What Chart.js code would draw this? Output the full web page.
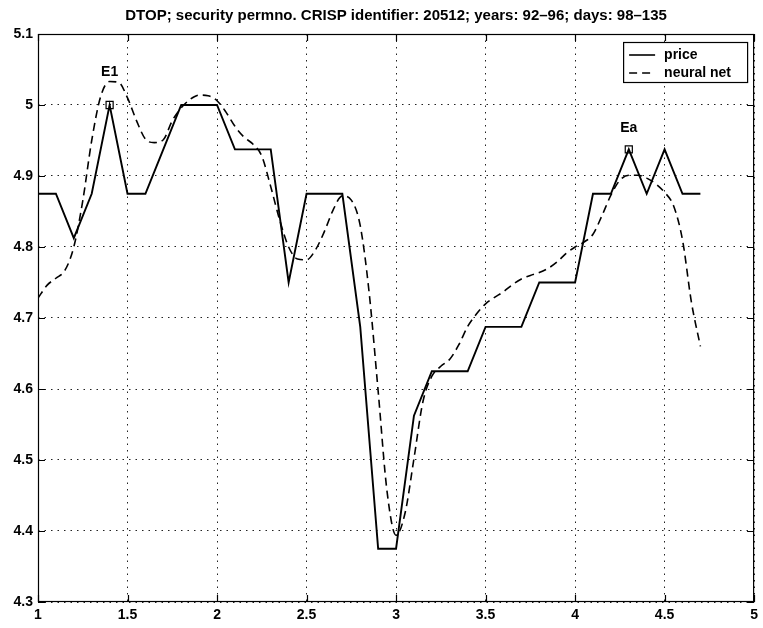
<!DOCTYPE html>
<html>
<head>
<meta charset="utf-8">
<script src="https://cdn.jsdelivr.net/npm/chart.js@4.4.0/dist/chart.umd.min.js"></script>
<style>
  html, body { margin: 0; padding: 0; background: #fff; }
  #wrap { width: 763px; height: 628px; }
</style>
</head>
<body>
<div id="wrap"><canvas id="chart" width="763" height="628"></canvas></div>
<script>
// Trading days 98-135, rescaled onto the 1..5 time axis
const days = [1.0, 1.1, 1.2, 1.3, 1.4, 1.5, 1.6, 1.7, 1.8, 1.9,
              2.0, 2.1, 2.2, 2.3, 2.4, 2.5, 2.6, 2.7, 2.8, 2.9,
              3.0, 3.1, 3.2, 3.3, 3.4, 3.5, 3.6, 3.7, 3.8, 3.9,
              4.0, 4.1, 4.2, 4.3, 4.4, 4.5, 4.6, 4.7];

// Closing price (log scale units)
const price = [4.875, 4.875, 4.8125, 4.875, 5.0, 4.875, 4.875, 4.9375, 5.0, 5.0,
               5.0, 4.9375, 4.9375, 4.9375, 4.75, 4.875, 4.875, 4.875, 4.6875, 4.375,
               4.375, 4.5625, 4.625, 4.625, 4.625, 4.6875, 4.6875, 4.6875, 4.75, 4.75,
               4.75, 4.875, 4.875, 4.9375, 4.875, 4.9375, 4.875, 4.875];

// Neural net output, sampled on a finer time grid
const netX = [1.00, 1.05, 1.10, 1.15, 1.20, 1.25, 1.30, 1.35, 1.40, 1.45,
              1.50, 1.55, 1.60, 1.65, 1.70, 1.75, 1.80, 1.85, 1.90, 1.95,
              2.00, 2.05, 2.10, 2.15, 2.20, 2.25, 2.30, 2.35, 2.40, 2.45,
              2.50, 2.55, 2.60, 2.65, 2.70, 2.75, 2.80, 2.85, 2.90, 2.95,
              3.00, 3.05, 3.10, 3.15, 3.20, 3.25, 3.30, 3.35, 3.40, 3.45,
              3.50, 3.55, 3.60, 3.65, 3.70, 3.75, 3.80, 3.85, 3.90, 3.95,
              4.00, 4.05, 4.10, 4.15, 4.20, 4.25, 4.30, 4.35, 4.40, 4.45,
              4.50, 4.55, 4.60, 4.65, 4.70];
const netY = [4.728, 4.746, 4.756, 4.767, 4.800, 4.865, 4.950, 5.012, 5.033, 5.032,
              5.010, 4.978, 4.952, 4.947, 4.951, 4.978, 4.996, 5.008, 5.014, 5.013,
              5.006, 4.990, 4.970, 4.955, 4.945, 4.928, 4.885, 4.838, 4.800, 4.783,
              4.782, 4.796, 4.822, 4.853, 4.872, 4.866, 4.830, 4.735, 4.597, 4.455,
              4.394, 4.425, 4.502, 4.582, 4.618, 4.632, 4.642, 4.662, 4.688, 4.706,
              4.720, 4.729, 4.737, 4.747, 4.755, 4.760, 4.764, 4.770, 4.779, 4.791,
              4.800, 4.807, 4.818, 4.844, 4.873, 4.894, 4.901, 4.901, 4.897, 4.889,
              4.877, 4.858, 4.810, 4.722, 4.660];

// Marked events on the price path, with the height of their text labels
const eventNames = ['E1', 'Ea'];
const eventDays = [1.4, 4.3];
const eventTextY = [5.046, 4.968];

const xTicks = [1, 1.5, 2, 2.5, 3, 3.5, 4, 4.5, 5];
const yTicks = [4.3, 4.4, 4.5, 4.6, 4.7, 4.8, 4.9, 5.0, 5.1];

const titleText = 'DTOP; security permno. CRISP identifier: 20512; years: 92\u201396; days: 98\u2013135';
const seriesNames = ['price', 'neural net'];

const FONT = '"Liberation Sans", Arial, Helvetica, sans-serif';
const NET_DASH = [8, 5];

const pricePts = days.map((d, i) => ({ x: d, y: price[i] }));
const netPts = netX.map((d, i) => ({ x: d, y: netY[i] }));
const eventPts = eventDays.map(d => ({ x: d, y: price[days.findIndex(v => Math.abs(v - d) < 1e-9)] }));

// MATLAB-style frame: box, inward ticks, legend and event labels
const framePlugin = {
  id: 'frame',
  afterDraw(chart) {
    const { ctx, chartArea: a, scales: { x, y } } = chart;
    const tl = 7;
    ctx.save();
    ctx.strokeStyle = '#000';
    ctx.lineWidth = 1.2;
    ctx.setLineDash([]);
    ctx.strokeRect(a.left + 0.5, a.top + 0.5, a.right - a.left - 1, a.bottom - a.top - 1);
    ctx.beginPath();
    xTicks.forEach(v => {
      const px = Math.round(x.getPixelForValue(v)) + 0.5;
      ctx.moveTo(px, a.bottom); ctx.lineTo(px, a.bottom - tl);
      ctx.moveTo(px, a.top); ctx.lineTo(px, a.top + tl);
    });
    yTicks.forEach(v => {
      const py = Math.round(y.getPixelForValue(v)) + 0.5;
      ctx.moveTo(a.left, py); ctx.lineTo(a.left + tl, py);
      ctx.moveTo(a.right, py); ctx.lineTo(a.right - tl, py);
    });
    ctx.stroke();

    // event labels above the marked prices
    ctx.fillStyle = '#000';
    ctx.font = 'bold 14px ' + FONT;
    ctx.textAlign = 'center';
    ctx.textBaseline = 'middle';
    eventNames.forEach((n, i) => {
      ctx.fillText(n, x.getPixelForValue(eventDays[i]), y.getPixelForValue(eventTextY[i]));
    });

    // legend box in the upper right corner
    const bw = 124, bh = 40;
    const bx = a.right - 7 - bw, by = a.top + 8;
    ctx.fillStyle = '#fff';
    ctx.fillRect(bx, by, bw, bh);
    ctx.lineWidth = 1.2;
    ctx.strokeRect(bx + 0.5, by + 0.5, bw, bh);
    const styles = [[], NET_DASH];
    seriesNames.forEach((n, i) => {
      const ly = by + 13 + i * 18;
      ctx.beginPath();
      ctx.setLineDash(styles[i]);
      ctx.lineWidth = 1.6;
      ctx.moveTo(bx + 6, ly); ctx.lineTo(bx + 32, ly);
      ctx.stroke();
      ctx.setLineDash([]);
      ctx.fillStyle = '#000';
      ctx.textAlign = 'left';
      ctx.fillText(n, bx + 41, ly);
    });
    ctx.restore();
  }
};

new Chart(document.getElementById('chart'), {
  type: 'scatter',
  data: {
    datasets: [
      {
        label: seriesNames[0],
        data: pricePts,
        showLine: true,
        borderColor: '#000',
        borderWidth: 1.9,
        pointRadius: 0,
        tension: 0
      },
      {
        label: seriesNames[1],
        data: netPts,
        showLine: true,
        borderColor: '#000',
        borderWidth: 1.6,
        borderDash: NET_DASH,
        pointRadius: 0,
        cubicInterpolationMode: 'monotone'
      },
      {
        label: 'events',
        data: eventPts,
        showLine: false,
        pointStyle: 'rect',
        pointRadius: 5,
        borderColor: '#000',
        borderWidth: 1.2,
        backgroundColor: 'rgba(0,0,0,0)'
      }
    ]
  },
  options: {
    responsive: false,
    animation: false,
    devicePixelRatio: 1,
    layout: { padding: { left: 0, right: 7, top: 0, bottom: 0 } },
    plugins: {
      legend: { display: false },
      tooltip: { enabled: false },
      title: {
        display: true,
        fullSize: false,
        text: titleText,
        color: '#000',
        font: { family: FONT, size: 15, weight: 'bold' },
        padding: { top: 7, bottom: 9 }
      }
    },
    scales: {
      x: {
        type: 'linear',
        min: 1, max: 5,
        afterBuildTicks: s => { s.ticks = xTicks.map(v => ({ value: v })); },
        afterFit: s => { s.height = 26; },
        ticks: {
          color: '#000',
          padding: 5,
          maxRotation: 0,
          font: { family: FONT, size: 14, weight: 'bold' },
          callback: v => String(Math.round(v * 10) / 10)
        },
        grid: { color: '#222', lineWidth: 1, drawTicks: false },
        border: { display: false, dash: [1.5, 5] }
      },
      y: {
        type: 'linear',
        min: 4.3, max: 5.1,
        afterBuildTicks: s => { s.ticks = yTicks.map(v => ({ value: v })); },
        afterFit: s => { s.width = 38; },
        ticks: {
          color: '#000',
          padding: 5,
          font: { family: FONT, size: 14, weight: 'bold' },
          callback: v => String(Math.round(v * 10) / 10)
        },
        grid: { color: '#222', lineWidth: 1, drawTicks: false },
        border: { display: false, dash: [1.5, 5] }
      }
    }
  },
  plugins: [framePlugin]
});
</script>
</body>
</html>
